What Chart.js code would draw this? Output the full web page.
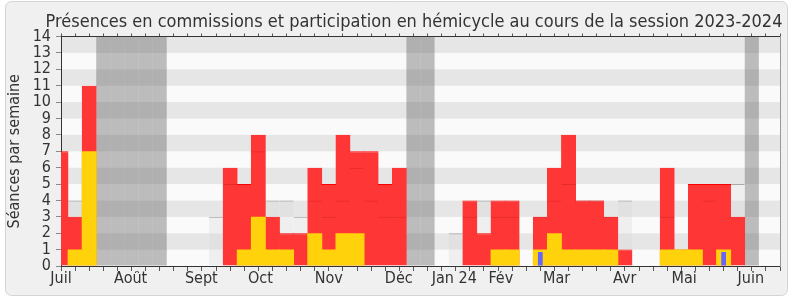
<!DOCTYPE html>
<html>
<head>
<meta charset="utf-8">
<script src="https://cdn.jsdelivr.net/npm/chart.js@4.4.1/dist/chart.umd.min.js"></script>
<style>
  html, body { margin: 0; padding: 0; background: #fff; }
</style>
</head>
<body>
<canvas id="myCanvas" width="790" height="300"></canvas>
<script>
const titre = "Présences en commissions et participation en hémicycle au cours de la session 2023-2024";
const titreY = "Séances par semaine";

// semaines de la session, 0 = premiere semaine de juillet 2023
const semaines = [0,1,2,3,4,5,6,7,8,9,10,11,12,13,14,15,16,17,18,19,20,21,22,23,24,25,
  26,27,28,29,30,31,32,33,34,35,36,37,38,39,40,41,42,43,44,45,46,47,48,49,50,51];

const mois = ["Juil", "Août", "Sept", "Oct", "Nov", "Déc", "Jan 24", "Fév", "Mar", "Avr", "Mai", "Juin"];
const posMois = [0, 4.94, 9.95, 14.14, 18.99, 23.96, 27.9, 31.2, 35.15, 39.99, 44.2, 48.93];

// presences en commission (rouge)
const commissions = [7,3,11,0,0,0,0,0,0,0, 0,0,6,5,8,3,2,2,6,5, 8,7,7,5,6,0,0,0,0,4,
  2,4,4,0,3,6,8,4,4,3, 1,0,0,6,1,5,5,5,3,0, 0,0];
// participation en hemicycle (jaune)
const hemicycle = [0,1,7,0,0,0,0,0,0,0, 0,0,0,1,3,1,1,0,2,1, 2,2,0,0,0,0,0,0,0,0,
  0,1,1,0,1,2,1,1,1,1, 0,0,0,1,1,1,0,1,0,0, 0,0];
// mediane des deputes (gris)
const mediane = [0,4,4,0,0,0,0,0,0,0, 0,3,5,5,7,4,4,3,4,3, 4,6,4,3,3,0,0,0,2,3,
  4,3,3,0,3,4,5,4,4,3, 4,0,0,3,1,5,4,5,5,0, 0,0];
// questions orales (bleu)
const questions = [0,0,0,0,0,0,0,0,0,0, 0,0,0,0,0,0,0,0,0,0, 0,0,0,0,0,0,0,0,0,0,
  0,0,0,0,0.85,0,0,0,0,0, 0,0,0,0,0,0,0,0.85,0,0, 0,0];
// semaines de vacances parlementaires
const vacances = [3,4,5,6,7,25,26,49];

const yMax = 14;
const police = '"DejaVu Sans Condensed", "DejaVu Sans", sans-serif';

Chart.defaults.font.family = police;
Chart.defaults.color = '#333';

function points(valeurs) {
    return semaines.map((s, i) => ({ x: s, y: valeurs[i] ? valeurs[i] : null }));
}

// la mediane qui passe sous les barres rouges, visible en trait sombre
const medianeSousRouge = mediane.map((m, i) => (m < commissions[i] ? m : 0));

const fond = {
    id: 'fond',
    beforeDraw(chart) {
        const c = chart.ctx;
        const a = chart.chartArea;
        const y = chart.scales.y;
        c.save();
        c.fillStyle = '#fff';
        c.fillRect(0, 0, chart.width, chart.height);
        c.beginPath();
        c.roundRect(5.5, 1.5, 782, 294, 6);
        c.fillStyle = '#f0f0f0';
        c.fill();
        c.strokeStyle = '#d4d4d4';
        c.lineWidth = 1;
        c.stroke();
        for (let v = 0; v < yMax; v++) {
            const y0 = y.getPixelForValue(v);
            const y1 = y.getPixelForValue(v + 1);
            c.fillStyle = v % 2 === 1 ? '#e6e6e6' : '#fafafa';
            c.fillRect(a.left, y1, a.right - a.left, y0 - y1);
        }
        c.restore();
    },
    afterDraw(chart) {
        const c = chart.ctx;
        c.save();
        c.font = '18px ' + police;
        c.fillStyle = '#333';
        c.textAlign = 'center';
        c.textBaseline = 'alphabetic';
        c.fillText(titre, 414, 26.5);
        c.restore();
    }
};

const semaineTicks = s => { s.ticks = semaines.map(v => ({ value: v })); };

let ctx = document.getElementById('myCanvas').getContext('2d');
let chartInstance = new Chart(ctx, {
    type: 'bar',
    data: {
        datasets: [
            {
                label: 'vacances',
                data: semaines.map(s => ({ x: s, y: vacances.includes(s) ? yMax : null })),
                backgroundColor: 'rgba(95,95,95,0.4)',
                borderWidth: 0,
                order: 6,
            },
            {
                label: 'mediane',
                data: points(mediane),
                backgroundColor: 'rgba(215,215,215,0.3)',
                borderColor: '#a8a8a8',
                borderWidth: { top: 1, left: 0, right: 0, bottom: 0 },
                order: 5,
            },
            {
                label: 'commissions',
                data: points(commissions),
                backgroundColor: 'rgb(255,54,54)',
                borderColor: 'rgb(255,0,0)',
                borderWidth: { top: 1, left: 0, right: 0, bottom: 0 },
                barPercentage: 1.06,
                order: 4,
            },
            {
                label: 'mediane (sous rouge)',
                data: points(medianeSousRouge),
                backgroundColor: 'rgba(0,0,0,0)',
                borderColor: 'rgba(120,0,0,0.2)',
                borderWidth: { top: 1, left: 0, right: 0, bottom: 0 },
                order: 3,
            },
            {
                label: 'hemicycle',
                data: points(hemicycle),
                backgroundColor: '#ffd20c',
                borderWidth: 0,
                barPercentage: 1.06,
                order: 2,
            },
            {
                label: 'questions',
                data: points(questions),
                backgroundColor: '#6666ff',
                borderWidth: 0,
                barPercentage: 0.34,
                order: 1,
            },
        ],
    },
    options: {
        responsive: false,
        devicePixelRatio: 1,
        animation: false,
        events: [],
        layout: { padding: { top: 33.5, right: 10, bottom: 9, left: 0 } },
        datasets: {
            bar: { grouped: false, barPercentage: 1, categoryPercentage: 1, inflateAmount: 0 },
        },
        plugins: {
            legend: { display: false },
            tooltip: { enabled: false },
            title: { display: false },
        },
        scales: {
            x: {
                type: 'linear', position: 'bottom', min: 0, max: 51, offset: false, weight: 0,
                grid: { display: true, drawOnChartArea: false, drawTicks: true, tickLength: 5, tickColor: '#555', offset: false },
                border: { display: true, color: '#333', width: 1 },
                ticks: { display: false, autoSkip: false },
                afterBuildTicks: semaineTicks,
                afterFit: s => { s.height = 5; },
            },
            mois: {
                type: 'linear', position: 'bottom', min: 0, max: 51, offset: false, weight: 1,
                grid: { display: false, drawTicks: false },
                border: { display: false },
                ticks: {
                    autoSkip: false, maxRotation: 0, padding: 0, color: '#333',
                    font: { size: 16, lineHeight: 1 },
                    callback: (v, i) => mois[i],
                },
                afterBuildTicks: s => { s.ticks = posMois.map(p => ({ value: p })); },
                afterFit: s => { s.height = 20; },
            },
            haut: {
                type: 'linear', position: 'top', min: 0, max: 51, offset: false,
                grid: { display: true, drawOnChartArea: false, drawTicks: true, tickLength: 3, tickColor: '#555', offset: false },
                border: { display: true, color: '#333', width: 1 },
                ticks: { display: false, autoSkip: false },
                afterBuildTicks: semaineTicks,
                afterFit: s => { s.height = 3; },
            },
            y: {
                min: 0, max: yMax,
                ticks: { stepSize: 1, padding: 5, color: '#333', autoSkip: false, font: { size: 16 } },
                grid: { display: true, drawOnChartArea: false, tickLength: 5, tickColor: '#888' },
                border: { display: true, color: '#333', width: 1 },
                title: { display: true, text: titreY, color: '#333', font: { size: 16 }, padding: { top: 5, bottom: 0 } },
                afterFit: s => { s.width = 61; },
            },
            droite: {
                type: 'linear', position: 'right', min: 0, max: yMax,
                grid: { display: true, drawOnChartArea: false, drawTicks: false },
                border: { display: true, color: '#999', width: 1 },
                ticks: { display: false },
                afterFit: s => { s.width = 0; },
            },
        },
    },
    plugins: [fond],
});
</script>
</body>
</html>
